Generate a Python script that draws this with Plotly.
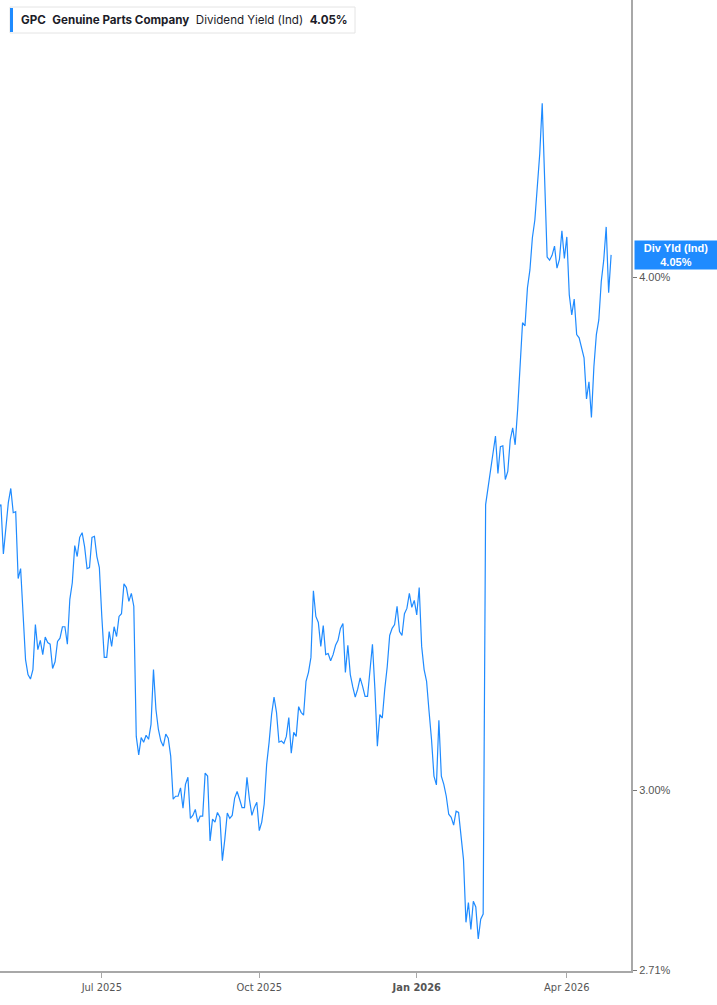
import numpy as np
import pandas as pd
import plotly.graph_objects as go

# ---------------- data ----------------
HOLIDAYS = ["2025-05-26", "2025-06-19", "2025-07-04", "2025-09-01", "2025-11-27",
            "2025-12-25", "2026-01-01", "2026-01-19", "2026-02-16", "2026-04-03"]
START_DATE = "2025-04-30"   # first trading day in the series

div_yield = [
    3.515, 3.521, 3.425, 3.472, 3.525, 3.553, 3.505, 3.507, 3.378, 3.397,
    3.320, 3.228, 3.201, 3.193, 3.210, 3.292, 3.246, 3.263, 3.237, 3.269,
    3.259, 3.256, 3.212, 3.224, 3.261, 3.267, 3.288, 3.288, 3.256, 3.339,
    3.370, 3.441, 3.420, 3.457, 3.466, 3.439, 3.397, 3.399, 3.457, 3.459,
    3.420, 3.399, 3.307, 3.232, 3.232, 3.279, 3.252, 3.288, 3.270, 3.307,
    3.312, 3.368, 3.361, 3.335, 3.350, 3.326, 3.092, 3.060, 3.090, 3.082,
    3.094, 3.087, 3.113, 3.210, 3.139, 3.104, 3.084, 3.075, 3.096, 3.089,
    3.058, 2.985, 2.990, 2.990, 3.004, 2.970, 3.010, 3.022, 2.953, 2.958,
    2.968, 2.947, 2.957, 2.957, 3.029, 3.024, 2.916, 2.952, 2.947, 2.963,
    2.955, 2.884, 2.919, 2.962, 2.953, 2.958, 2.987, 2.998, 2.985, 2.971,
    2.971, 3.022, 2.985, 2.958, 2.971, 2.980, 2.933, 2.947, 2.977, 3.044,
    3.082, 3.130, 3.161, 3.134, 3.082, 3.084, 3.080, 3.092, 3.125, 3.063,
    3.099, 3.092, 3.144, 3.134, 3.129, 3.189, 3.205, 3.232, 3.355, 3.307,
    3.296, 3.252, 3.290, 3.237, 3.239, 3.226, 3.237, 3.254, 3.263, 3.285,
    3.294, 3.205, 3.254, 3.201, 3.179, 3.161, 3.175, 3.195, 3.180, 3.162,
    3.162, 3.210, 3.256, 3.175, 3.075, 3.130, 3.124, 3.175, 3.215, 3.272,
    3.285, 3.292, 3.326, 3.279, 3.272, 3.312, 3.322, 3.350, 3.324, 3.337,
    3.310, 3.361, 3.252, 3.210, 3.189, 3.136, 3.087, 3.024, 3.009, 3.120,
    3.024, 3.010, 2.990, 2.960, 2.955, 2.942, 2.965, 2.963, 2.919, 2.886,
    2.786, 2.817, 2.775, 2.819, 2.810, 2.760, 2.791, 2.799, 3.521, 3.557,
    3.595, 3.631, 3.659, 3.583, 3.637, 3.639, 3.571, 3.587, 3.651, 3.676,
    3.641, 3.713, 3.813, 3.899, 3.892, 3.976, 4.016, 4.089, 4.130, 4.206,
    4.287, 4.409, 4.206, 4.045, 4.038, 4.049, 4.070, 4.020, 4.040, 4.105,
    4.042, 4.091, 3.960, 3.916, 3.951, 3.873, 3.866, 3.847, 3.823, 3.736,
    3.772, 3.697, 3.804, 3.873, 3.905, 3.990, 4.038, 4.114, 3.965, 4.050,
]

TICK_DATES = ["2025-07-01", "2025-10-01", "2026-01-02", "2026-04-01"]
TICK_LABELS = ["Jul 2025", "Oct 2025", "<b>Jan 2026</b>", "Apr 2026"]
Y_TICKS = [2.712, 3.0, 4.0]
Y_TICK_LABELS = ["2.71%", "3.00%", "4.00%"]
Y_RANGE = [2.711, 4.672]
X_RANGE = ["2025-04-30 14:53:00", "2026-05-08 02:00:00"]

TICKER = "GPC"
COMPANY = "Genuine Parts Company"
METRIC = "Dividend Yield (Ind)"
SHORT_METRIC = "Div Yld (Ind)"

# ---------------- figure ----------------
BLUE = "#1f8bff"
dates = pd.bdate_range(start=START_DATE, periods=len(div_yield), freq="C", holidays=HOLIDAYS)
last = div_yield[-1]

fig = go.Figure()
fig.add_trace(go.Scatter(
    x=dates, y=div_yield, mode="lines",
    line=dict(color=BLUE, width=1.2),
    hoverinfo="skip", showlegend=False,
))

W, H = 717, 1005
ML, MR, MT, MB = 0, 86, 0, 34
PW, PH = W - ML - MR, H - MT - MB

fig.update_layout(
    width=W, height=H,
    margin=dict(l=ML, r=MR, t=MT, b=MB, pad=0),
    paper_bgcolor="white", plot_bgcolor="white",
    showlegend=False,
    xaxis=dict(
        type="date",
        range=X_RANGE,
        rangebreaks=[dict(bounds=["sat", "mon"]), dict(values=HOLIDAYS)],
        tickmode="array", tickvals=TICK_DATES, ticktext=TICK_LABELS,
        showgrid=False, zeroline=False,
        showline=True, linecolor="#a8a8a8", linewidth=2,
        ticks="outside", ticklen=5, tickwidth=1, tickcolor="#a8a8a8",
        tickfont=dict(family="Liberation Sans Narrow, DejaVu Sans Condensed, Arial", size=11, color="#555555"),
    ),
    yaxis=dict(
        type="log", side="right",
        range=[np.log10(Y_RANGE[0]), np.log10(Y_RANGE[1])],
        tickmode="array", tickvals=Y_TICKS, ticktext=Y_TICK_LABELS,
        showgrid=False, zeroline=False,
        showline=True, linecolor="#a8a8a8", linewidth=2,
        ticks="outside", ticklen=4, tickwidth=1, tickcolor="#777777",
        tickfont=dict(family="Liberation Sans, Arial", size=11, color="#555555"),
    ),
)

# title box (top-left): frame, blue accent bar, text
fig.add_shape(
    type="rect", xref="paper", yref="paper",
    x0=10 / PW, x1=355 / PW, y0=1 - 33 / PH, y1=1 - 7 / PH,
    fillcolor="white", line=dict(color="#e4e4e4", width=1), layer="above",
)
fig.add_shape(
    type="rect", xref="paper", yref="paper",
    x0=10 / PW, x1=13 / PW, y0=1 - 32 / PH, y1=1 - 8 / PH,
    fillcolor=BLUE, line=dict(width=0), layer="above",
)
fig.add_annotation(
    xref="paper", yref="paper", x=19 / PW, y=1 - 20 / PH,
    xanchor="left", yanchor="middle", showarrow=False, align="left",
    text=(f"<b>{TICKER}</b>&nbsp;&nbsp;<b>{COMPANY}</b>&nbsp;&nbsp;"
          f"{METRIC}&nbsp;&nbsp;<b>{last:.2f}%</b>"),
    font=dict(family="Inter, Noto Sans, Arial", size=11.6, color="#1c1c28"),
)

# last value label on the right axis
fig.add_annotation(
    xref="paper", yref="y", x=1 + 3 / PW, y=np.log10(last),
    xanchor="left", yanchor="middle", showarrow=False, align="center",
    text=f"<b>{SHORT_METRIC}</b><br><b>{last:.2f}%</b>",
    font=dict(family="Liberation Sans, Arial", size=11, color="white"),
    bgcolor=BLUE, borderpad=1, width=80,
)

fig.write_html(
    "out.html",
    config={"displayModeBar": False, "staticPlot": True},
    post_script="document.body.style.margin='0px';document.body.style.overflow='hidden';",
)
